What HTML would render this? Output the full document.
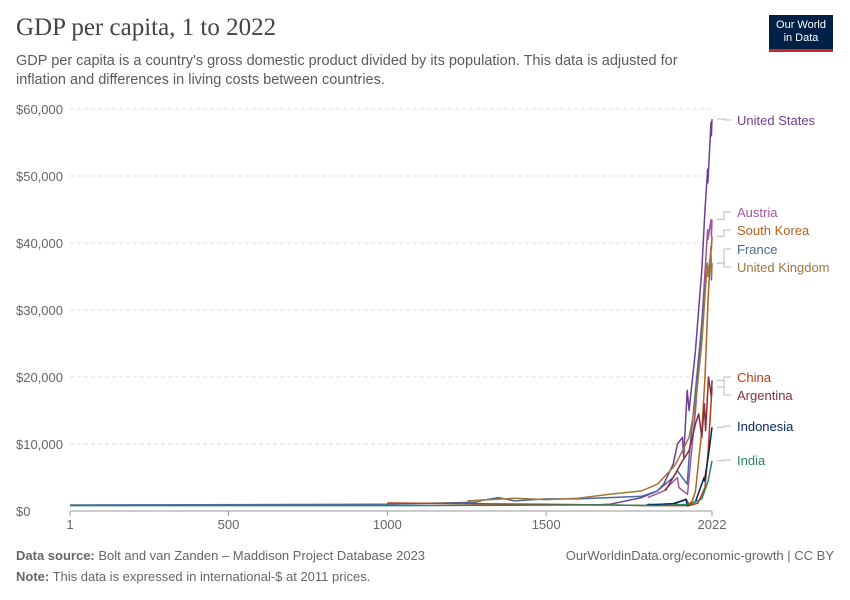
<!DOCTYPE html>
<html><head><meta charset="utf-8">
<style>
body{margin:0;background:#fff;font-family:"Liberation Sans",sans-serif;}
#wrap{position:relative;width:850px;height:600px;overflow:hidden;}
.t{position:absolute;white-space:nowrap;}
</style></head><body>
<div id="wrap">
<div class="t" style="left:16px;top:14px;font-family:'Liberation Serif',serif;font-size:25px;color:#444;">GDP per capita, 1 to 2022</div>
<div class="t" style="left:16px;top:52px;font-size:14.5px;line-height:19px;color:#5b5b5b;">GDP per capita is a country's gross domestic product divided by its population. This data is adjusted for<br>inflation and differences in living costs between countries.</div>
<div style="position:absolute;left:769px;top:15px;width:64px;height:37px;background:#002147;border-bottom:3px solid #ce261e;color:#fff;font-size:11px;line-height:13px;text-align:center;padding-top:4px;box-sizing:border-box;">Our World<br>in Data</div>
<svg id="chart" width="850" height="600" style="position:absolute;left:0;top:0"></svg>
<div class="t" style="left:16px;top:548px;font-size:13px;color:#666;"><b>Data source:</b> Bolt and van Zanden – Maddison Project Database 2023</div>
<div class="t" style="right:16px;top:548px;font-size:13px;color:#666;">OurWorldinData.org/economic-growth | CC BY</div>
<div class="t" style="left:16px;top:569px;font-size:13px;color:#666;"><b>Note:</b> This data is expressed in international-$ at 2011 prices.</div>
</div>
<script>
const yTicks=[0,10000,20000,30000,40000,50000,60000];
const yTickLabels=["$0","$10,000","$20,000","$30,000","$40,000","$50,000","$60,000"];
const xTicks=[1,500,1000,1500,2022];
const seriesNames=["United States","Austria","South Korea","France","United Kingdom","China","Argentina","Indonesia","India"];
const usYears=[1650,1700,1800,1850,1870,1900,1913,1929,1933,1944,1950,1970,1990,2000,2008,2009,2019,2020,2022];
const usVals=[900,1000,2000,3000,4000,7000,10000,11000,8000,18000,15000,24000,36000,45000,51000,49000,58000,56000,58500];
const atYears=[1820,1870,1913,1918,1945,1950,1970,1990,2008,2009,2019,2020,2022];
const atVals=[2000,3000,5000,3500,2500,5000,15000,28000,42000,40500,43500,41000,43500];
const krYears=[1820,1900,1940,1950,1960,1970,1990,2000,2010,2019,2020,2022];
const krVals=[1000,900,1800,1000,1500,3000,12000,20000,32000,39500,39000,41000];
const frYears=[1,1000,1280,1300,1350,1400,1500,1600,1700,1800,1850,1900,1913,1944,1950,1970,1990,2007,2009,2019,2020,2022];
const frVals=[900,1000,1300,1600,2000,1500,1800,1800,2000,2200,3000,5000,6000,4000,8000,18000,28000,37000,35500,38000,34500,37000];
const ukYears=[1252,1400,1500,1600,1700,1800,1850,1900,1913,1950,1970,1990,2007,2009,2019,2020,2022];
const ukVals=[1500,1900,1700,1900,2500,3000,4000,6500,7500,11000,16000,25000,37000,35000,39000,35000,37000];
const cnYears=[1000,1500,1700,1850,1950,1978,2000,2010,2019,2022];
const cnVals=[1200,1000,900,800,800,1200,3500,9000,16000,18500];
const arYears=[1875,1900,1929,1950,1970,1980,1990,1998,2002,2011,2020,2022];
const arVals=[3000,5000,7500,9000,13000,14500,11000,16000,12000,20000,17000,19500];
const idYears=[1815,1900,1940,1945,1950,1970,1997,1998,2010,2022];
const idVals=[900,1100,1700,800,1000,1400,5000,4500,8000,12500];
const inYears=[1,1000,1600,1700,1850,1900,1950,1990,2010,2022];
const inVals=[800,800,900,900,800,900,1000,1800,4500,7500];
const seriesYears=[usYears,atYears,krYears,frYears,ukYears,cnYears,arYears,idYears,inYears];
const seriesVals=[usVals,atVals,krVals,frVals,ukVals,cnVals,arVals,idVals,inVals];
const colors=["#6d3e91","#a2559c","#b4621d","#4c6a9c","#a2763c","#c03a12","#883039","#00295b","#2c8465"];
const labelY=[120,212,230,249,267,377,395,426,460];
const X0=70,X1=712,Y0=511,Y1=109;
const x=y=>X0+(y-1)*(X1-X0)/2021;
const yv=v=>Y0-v*(Y0-Y1)/60000;
const svg=document.getElementById('chart');
const NS='http://www.w3.org/2000/svg';
function mk(t,a){const e=document.createElementNS(NS,t);for(const k in a)e.setAttribute(k,a[k]);svg.appendChild(e);return e;}
yTicks.forEach((v,i)=>{
 if(v>0){const g=mk('line',{x1:X0,x2:X1,y1:yv(v),y2:yv(v),stroke:'#ddd','stroke-dasharray':'4,3'});
 
 }
 const t=mk('text',{x:16,y:yv(v)+5,'font-size':13,fill:'#666','font-family':'Liberation Sans,sans-serif'});
 t.textContent=yTickLabels[i];
 
 
});
const ax=mk('line',{x1:X0,x2:X1,y1:Y0,y2:Y0,stroke:'#999'});


xTicks.forEach(v=>{
 const tk=mk('line',{x1:x(v),x2:x(v),y1:Y0,y2:Y0+5,stroke:'#999'});
 
 
 const t=mk('text',{x:x(v),y:Y0+18,'font-size':13,fill:'#666','text-anchor':'middle','font-family':'Liberation Sans,sans-serif'});
 t.textContent=v;
 
 
});
seriesNames.forEach((n,i)=>{
 const ys=seriesYears[i],vs=seriesVals[i];
 const d=ys.map((yr,j)=>(j?'L':'M')+x(yr).toFixed(1)+','+yv(vs[j]).toFixed(1)).join('');
 const p=mk('path',{d:d,fill:'none',stroke:colors[i],'stroke-width':1.5,'stroke-linejoin':'round'});
 
 
 const endY=yv(vs[vs.length-1]);
 const c=mk('path',{d:`M717,${endY}H724V${labelY[i]}H731`,fill:'none',stroke:'#bbb'});
 
 
 const t=mk('text',{x:737,y:labelY[i]+5,'font-size':13,fill:colors[i],'font-family':'Liberation Sans,sans-serif'});
 t.textContent=n;
 
 
});
</script>
</body></html>
